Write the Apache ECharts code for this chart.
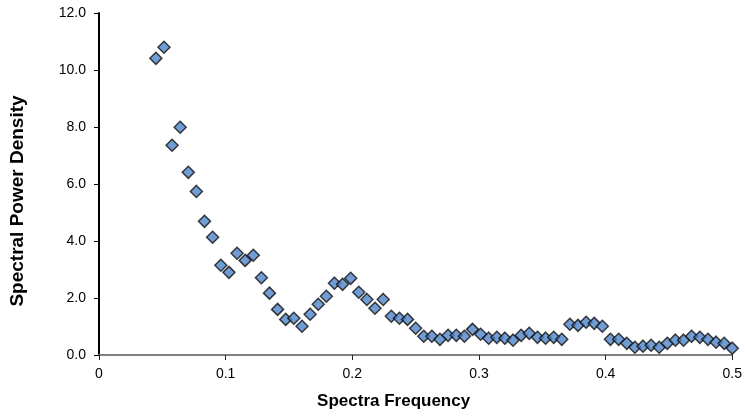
<!DOCTYPE html>
<html>
<head>
<meta charset="utf-8">
<script src="https://cdn.jsdelivr.net/npm/echarts@6/dist/echarts.min.js"></script>
<style>
  html, body { margin: 0; padding: 0; background: #fff; }
  #main { width: 745px; height: 417px; }
</style>
</head>
<body>
<div id="main"></div>
<script>
  // frequency of each point
  let freq = [
    0.0449, 0.0513, 0.0577, 0.0641, 0.0705, 0.0769, 0.0833, 0.0897, 0.0962, 0.1026,
    0.1090, 0.1154, 0.1218, 0.1282, 0.1346, 0.1410, 0.1474, 0.1538, 0.1603, 0.1667,
    0.1731, 0.1795, 0.1859, 0.1923, 0.1987, 0.2051, 0.2115, 0.2179, 0.2244, 0.2308,
    0.2372, 0.2436, 0.2500, 0.2564, 0.2628, 0.2692, 0.2756, 0.2821, 0.2885, 0.2949,
    0.3013, 0.3077, 0.3141, 0.3205, 0.3269, 0.3333, 0.3397, 0.3462, 0.3526, 0.3590,
    0.3654, 0.3718, 0.3782, 0.3846, 0.3910, 0.3974, 0.4038, 0.4103, 0.4167, 0.4231,
    0.4295, 0.4359, 0.4423, 0.4487, 0.4551, 0.4615, 0.4679, 0.4744, 0.4808, 0.4872,
    0.4936, 0.5000
  ];
  // spectral power density
  let power = [
    10.41, 10.80, 7.36, 7.99, 6.41, 5.74, 4.69, 4.13, 3.15, 2.90,
    3.57, 3.32, 3.50, 2.71, 2.17, 1.60, 1.25, 1.29, 1.01, 1.43,
    1.78, 2.06, 2.52, 2.48, 2.69, 2.20, 1.95, 1.64, 1.95, 1.36,
    1.29, 1.25, 0.94, 0.66, 0.66, 0.55, 0.69, 0.69, 0.66, 0.90,
    0.73, 0.59, 0.62, 0.59, 0.52, 0.69, 0.76, 0.62, 0.59, 0.62,
    0.55, 1.08, 1.04, 1.15, 1.11, 1.01, 0.55, 0.55, 0.41, 0.27,
    0.31, 0.34, 0.27, 0.41, 0.52, 0.52, 0.66, 0.62, 0.55, 0.45,
    0.41, 0.24
  ];

  let points = freq.map((f, i) => [f, power[i]]);

  let myChart = echarts.init(document.getElementById('main'));
  let font = 'Liberation Sans, Arial, sans-serif';
  let option = {
    animation: false,
    grid: {
      left: 99,
      right: 11,
      top: 13,
      bottom: 62,
      containLabel: false
    },
    xAxis: {
      type: 'value',
      min: 0,
      max: 0.5,
      interval: 0.1,
      name: 'Spectra Frequency',
      nameLocation: 'middle',
      nameGap: 38,
      nameTextStyle: {
        fontFamily: font, fontSize: 17, fontWeight: 'bold', color: '#000',
        padding: [0, 44, 0, 0]
      },
      axisLine: { show: true, onZero: false, lineStyle: { color: '#7f7f7f', width: 2 } },
      axisTick: { show: true, length: 5, lineStyle: { color: '#222', width: 1 } },
      axisLabel: { fontFamily: font, fontSize: 14, color: '#000', margin: 12 },
      splitLine: { show: false }
    },
    yAxis: {
      type: 'value',
      min: 0,
      max: 12,
      interval: 2,
      name: 'Spectral Power Density',
      nameLocation: 'middle',
      nameGap: 72,
      nameTextStyle: {
        fontFamily: font, fontSize: 19, fontWeight: 'bold', color: '#000',
        padding: [0, 34, 0, 0]
      },
      axisLine: { show: true, lineStyle: { color: '#000', width: 2 } },
      axisTick: { show: true, length: 5, lineStyle: { color: '#000', width: 1 } },
      axisLabel: {
        fontFamily: font, fontSize: 14, color: '#000', margin: 13,
        formatter: v => v.toFixed(1)
      },
      splitLine: { show: false }
    },
    series: [
      {
        type: 'scatter',
        data: points,
        symbol: 'diamond',
        symbolSize: [12, 12],
        itemStyle: {
          color: '#4f84c9',
          borderColor: '#111',
          borderWidth: 1.5
        }
      }
    ]
  };
  myChart.setOption(option);
</script>
</body>
</html>
